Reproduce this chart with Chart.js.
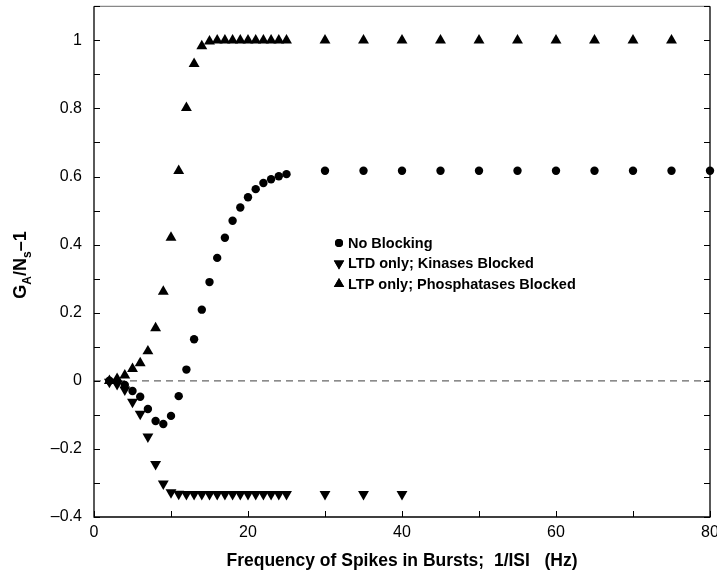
<!DOCTYPE html>
<html>
<head>
<meta charset="utf-8">
<script src="https://cdn.jsdelivr.net/npm/chart.js@4/dist/chart.umd.min.js"></script>
<style>
  html, body { margin: 0; padding: 0; background: #fff; }
  canvas { display: block; }
</style>
</head>
<body>
<canvas id="plot" width="717" height="572"></canvas>
<script>
  // burst frequency (Hz) and normalised synaptic change G_A/N_s - 1
  const noBlockFreq = [2, 3, 4, 5, 6, 7, 8, 9, 10, 11, 12, 13, 14, 15, 16, 17, 18, 19, 20, 21, 22, 23, 24, 25,
    30, 35, 40, 45, 50, 55, 60, 65, 70, 75, 80];
  const noBlockVal = [0, -0.003, -0.012, -0.03, -0.047, -0.083, -0.118, -0.127, -0.103, -0.045, 0.033, 0.122,
    0.209, 0.29, 0.361, 0.42, 0.47, 0.509, 0.539, 0.563, 0.581, 0.592, 0.601, 0.607,
    0.617, 0.617, 0.617, 0.617, 0.617, 0.617, 0.617, 0.617, 0.617, 0.617, 0.617];

  const ltdFreq = [2, 3, 4, 5, 6, 7, 8, 9, 10, 11, 12, 13, 14, 15, 16, 17, 18, 19, 20, 21, 22, 23, 24, 25,
    30, 35, 40];
  const ltdVal = [-0.003, -0.01, -0.026, -0.062, -0.097, -0.164, -0.245, -0.302, -0.328, -0.332, -0.333, -0.333,
    -0.333, -0.333, -0.333, -0.333, -0.333, -0.333, -0.333, -0.333, -0.333, -0.333, -0.333, -0.333,
    -0.333, -0.333, -0.333];

  const ltpFreq = [2, 3, 4, 5, 6, 7, 8, 9, 10, 11, 12, 13, 14, 15, 16, 17, 18, 19, 20, 21, 22, 23, 24, 25,
    30, 35, 40, 45, 50, 55, 60, 65, 70, 75];
  const ltpVal = [0, 0.006, 0.016, 0.035, 0.052, 0.087, 0.155, 0.262, 0.421, 0.617, 0.802, 0.931, 0.983, 0.997,
    1, 1, 1, 1, 1, 1, 1, 1, 1, 1,
    1, 1, 1, 1, 1, 1, 1, 1, 1, 1];

  const X_TICKS = [0, 20, 40, 60, 80];
  const Y_TICKS = [-0.4, -0.2, 0, 0.2, 0.4, 0.6, 0.8, 1];
  const X_MINOR = [0, 10, 20, 30, 40, 50, 60, 70, 80];
  const Y_MINOR = [-0.4, -0.3, -0.2, -0.1, 0, 0.1, 0.2, 0.3, 0.4, 0.5, 0.6, 0.7, 0.8, 0.9, 1.0, 1.1];

  const LEGEND = [
    { label: 'No Blocking', style: 'circle', rot: 0 },
    { label: 'LTD only; Kinases Blocked', style: 'triangle', rot: 180 },
    { label: 'LTP only; Phosphatases Blocked', style: 'triangle', rot: 0 },
  ];

  const FONT = '"Liberation Sans", Arial, Helvetica, sans-serif';

  function pts(xs, ys) { return xs.map((x, i) => ({ x: x, y: ys[i] })); }

  function fmtY(v) {
    if (Math.abs(v) < 1e-9) return '0';
    const s = Math.abs(v) === 1 ? '1' : Math.abs(v).toFixed(1);
    return v < 0 ? '\u2013' + s : s;
  }

  // frame, inward ticks and the dashed zero line
  const framePlugin = {
    id: 'frame',
    beforeDatasetsDraw(chart) {
      const { ctx, chartArea: a, scales: { y } } = chart;
      const y0 = y.getPixelForValue(0);
      ctx.save();
      ctx.strokeStyle = '#666';
      ctx.lineWidth = 1.2;
      ctx.setLineDash([7, 5]);
      ctx.beginPath();
      ctx.moveTo(a.left, y0);
      ctx.lineTo(a.right, y0);
      ctx.stroke();
      ctx.restore();
    },
    afterDatasetsDraw(chart) {
      const { ctx, chartArea: a, scales: { x, y } } = chart;
      ctx.save();
      ctx.lineWidth = 1.3;
      ctx.strokeStyle = '#888';
      ctx.beginPath();
      ctx.moveTo(a.left, a.top);
      ctx.lineTo(a.right, a.top);
      ctx.stroke();
      ctx.strokeStyle = '#000';
      ctx.beginPath();
      ctx.moveTo(a.left, a.top);
      ctx.lineTo(a.left, a.bottom);
      ctx.lineTo(a.right, a.bottom);
      ctx.lineTo(a.right, a.top);
      ctx.stroke();

      ctx.lineWidth = 1;
      ctx.beginPath();
      X_MINOR.forEach(v => {
        const px = Math.round(x.getPixelForValue(v)) + 0.5;
        ctx.moveTo(px, a.bottom);
        ctx.lineTo(px, a.bottom - 6);
      });
      Y_MINOR.forEach(v => {
        const py = Math.round(y.getPixelForValue(v)) + 0.5;
        ctx.moveTo(a.left, py);
        ctx.lineTo(a.left + 6, py);
        ctx.moveTo(a.right, py);
        ctx.lineTo(a.right - 6, py);
      });
      ctx.stroke();
      ctx.restore();
    },
    afterDraw(chart) {
      const { ctx } = chart;
      ctx.save();
      // legend inside the plot
      ctx.font = 'bold 14.5px ' + FONT;
      ctx.fillStyle = '#000';
      ctx.textBaseline = 'middle';
      LEGEND.forEach((item, i) => {
        const cy = 243 + i * 20.5;
        Chart.helpers.drawPoint(ctx, {
          pointStyle: item.style, rotation: item.rot,
          radius: item.style === 'circle' ? 4 : 6, borderWidth: 0,
        }, 339, cy);
        ctx.fill();
        ctx.fillText(item.label, 348, cy + 0.5);
      });

      // y axis title with subscripts: G_A/N_s-1
      ctx.translate(20, 265);
      ctx.rotate(-Math.PI / 2);
      const parts = [
        ['G', 18, 0], ['A', 12, 5], ['/N', 18, 0], ['s', 12, 5], ['\u20131', 18, 0],
      ];
      let w = 0;
      parts.forEach(p => { ctx.font = 'bold ' + p[1] + 'px ' + FONT; w += ctx.measureText(p[0]).width; });
      let cx = -w / 2;
      ctx.textBaseline = 'alphabetic';
      parts.forEach(p => {
        ctx.font = 'bold ' + p[1] + 'px ' + FONT;
        ctx.fillText(p[0], cx, 6 + p[2]);
        cx += ctx.measureText(p[0]).width;
      });
      ctx.restore();
    },
  };

  const mk = { backgroundColor: '#000', borderColor: '#000', borderWidth: 0, clip: false };

  new Chart(document.getElementById('plot'), {
    type: 'scatter',
    data: {
      datasets: [
        { ...mk, label: 'No Blocking', data: pts(noBlockFreq, noBlockVal),
          pointStyle: 'circle', pointRadius: 4.2, pointHoverRadius: 4.2 },
        { ...mk, label: 'LTD only; Kinases Blocked', data: pts(ltdFreq, ltdVal),
          pointStyle: 'triangle', pointRotation: 180, pointRadius: 6.3, pointHoverRadius: 6.3 },
        { ...mk, label: 'LTP only; Phosphatases Blocked', data: pts(ltpFreq, ltpVal),
          pointStyle: 'triangle', pointRadius: 6.3, pointHoverRadius: 6.3 },
      ],
    },
    options: {
      responsive: false,
      animation: false,
      devicePixelRatio: 1,
      layout: { padding: { top: 5, right: 7, left: 0, bottom: 0 } },
      plugins: { legend: { display: false }, tooltip: { enabled: false } },
      scales: {
        x: {
          type: 'linear', min: 0, max: 80,
          grid: { display: false, drawTicks: false },
          border: { display: false },
          afterBuildTicks: s => { s.ticks = X_TICKS.map(v => ({ value: v })); },
          afterFit: s => { s.height = 55; s.paddingLeft = 0; s.paddingRight = 0; },
          ticks: { color: '#000', padding: 6, maxRotation: 0, autoSkip: false,
            font: { family: FONT, size: 16 } },
          title: { display: true, text: 'Frequency of Spikes in Bursts;  1/ISI   (Hz)', color: '#000',
            font: { family: FONT, size: 17.5, weight: 'bold' }, padding: { top: 2, bottom: 0 } },
        },
        y: {
          type: 'linear', min: -0.4, max: 1.1,
          grid: { display: false, drawTicks: false },
          border: { display: false },
          afterBuildTicks: s => { s.ticks = Y_TICKS.map(v => ({ value: v })); },
          afterFit: s => { s.width = 94; s.paddingTop = 0; s.paddingBottom = 0; },
          ticks: { color: '#000', padding: 12, callback: v => fmtY(v),
            font: { family: FONT, size: 16 } },
        },
      },
    },
    plugins: [framePlugin],
  });
</script>
</body>
</html>
